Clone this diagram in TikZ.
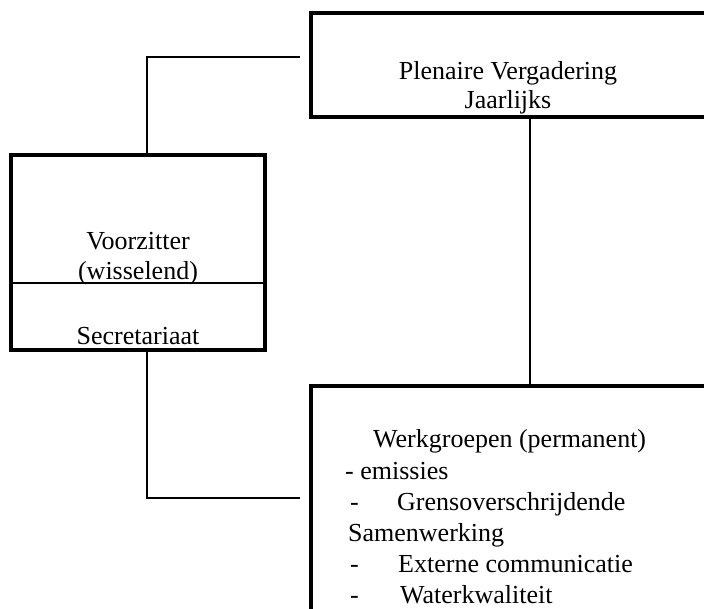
\documentclass[tikz,border=0pt]{standalone}
\usepackage{fontspec}
\setmainfont{Liberation Serif}
\begin{document}
\begin{tikzpicture}[x=1pt,y=-1pt,
  box/.style={draw, line width=4pt, inner sep=0pt},
  conn/.style={line width=1.5pt},
  divline/.style={line width=1.5pt},
  txt/.style={font=\fontsize{26}{30}\selectfont, inner sep=0pt, anchor=base},
  ltxt/.style={font=\fontsize{26}{30}\selectfont, inner sep=0pt, anchor=base west}]
\useasboundingbox (0,0) rectangle (704,609);
\clip (0,0) rectangle (704,609);
% boxes
\node[box, minimum width=398pt, minimum height=104pt] (plen) at (510,65) {};
\node[box, minimum width=254pt, minimum height=195pt] (vz) at (138,252.5) {};
\node[box, minimum width=398pt, minimum height=254pt] (wg) at (510,513) {};
% divider in left box
\coordinate (dv) at (0,283);
\draw[divline] (vz.west |- dv) -- (vz.east |- dv);
% texts
\node[txt] (t1) at (508,80) {Plenaire Vergadering};
\node[txt] (t2) at (508,109) {Jaarlijks};
\node[txt] (t3) at (138,250) {Voorzitter};
\node[txt] (t4) at (138,280) {(wisselend)};
\node[txt] (t5) at (138,345) {Secretariaat};
\node[ltxt] (w1) at (373,447) {Werkgroepen (permanent)};
\node[ltxt] (w2) at (345,479) {- emissies};
\node[ltxt] (w3d) at (350,510) {-};
\node[ltxt] (w3) at (397,510) {Grensoverschrijdende};
\node[ltxt] (w4) at (348,541) {Samenwerking};
\node[ltxt] (w5d) at (350,572) {-};
\node[ltxt] (w5) at (398,572) {Externe communicatie};
\node[ltxt] (w6d) at (350,603) {-};
\node[ltxt] (w6) at (400,603) {Waterkwaliteit};
% connectors
\coordinate (c1) at (147,57);
\coordinate (c1e) at (300,57);
\draw[conn] (c1e) -- (c1) -- (c1 |- vz.north);
\coordinate (v) at (530,0);
\draw[conn] (v |- plen.south) -- (v |- wg.north);
\coordinate (c2) at (147,498);
\coordinate (c2e) at (300,498);
\draw[conn] (c2 |- vz.south) -- (c2) -- (c2e);
\end{tikzpicture}
\end{document}
